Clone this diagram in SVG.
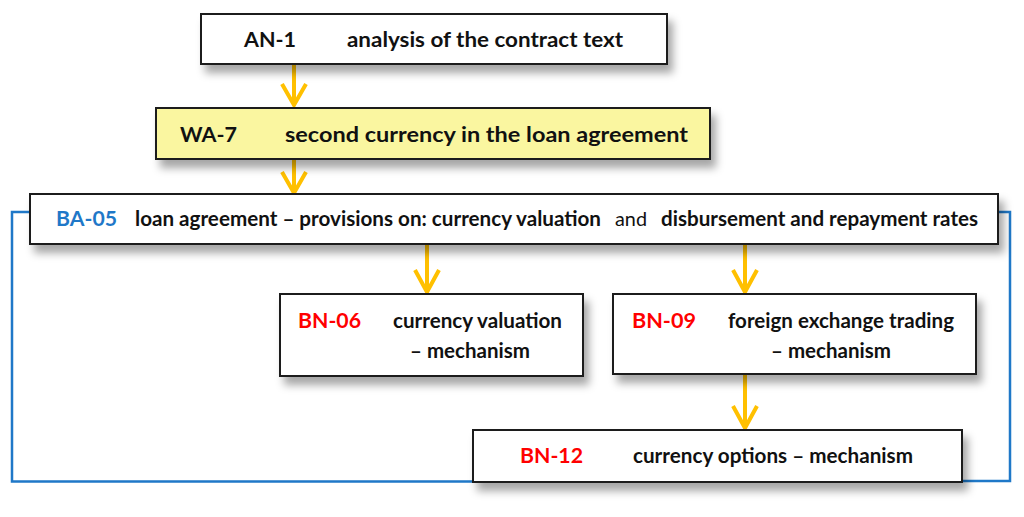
<svg xmlns="http://www.w3.org/2000/svg" width="1024" height="517" viewBox="0 0 1024 517">
<style>
.box{fill:#fff;stroke:#1a1a1a;stroke-width:2;}
.hl{fill:#FAF6A0;}
.t{font-family:Lato,"Open Sans","Liberation Sans",sans-serif;font-size:20px;font-weight:bold;fill:#111;}
.n{font-weight:normal;}
.red{fill:#FF0000;}
.blue{fill:#1F78C8;}
.arr{stroke:#FFC000;stroke-width:4;fill:none;stroke-linecap:butt;stroke-linejoin:miter;}
.bl{stroke:#1F78C8;stroke-width:2.5;fill:none;}
</style>
<defs>
<filter id="sh" x="-10%" y="-30%" width="125%" height="190%">
<feDropShadow dx="5" dy="8" stdDeviation="4" flood-color="#000" flood-opacity="0.35"/>
</filter>
</defs>
<rect width="1024" height="517" fill="#fff"/>
<g id="connectors">
<polyline class="bl" points="30,212 12,212 12,481.5 473,481.5"/>
<polyline class="bl" points="998,212 1010,212 1010,481 962,481"/>
<path class="arr" d="M294,64 V105 M282,84 L294,105 L306,84"/>
<path class="arr" d="M294,159 V193 M282,172 L294,193 L306,172"/>
<path class="arr" d="M427,244 V292 M415,270 L427,292 L439,270"/>
<path class="arr" d="M745,244 V292 M733,270 L745,292 L757,270"/>
<path class="arr" d="M745,374 V428 M733,406 L745,428 L757,406"/>
</g>
<g id="AN-1">
<rect class="box" x="201" y="14" width="466" height="50" filter="url(#sh)"/>
<text class="t" x="244" y="47" textLength="52" lengthAdjust="spacingAndGlyphs">AN-1</text>
<text class="t" x="347" y="47" textLength="276" lengthAdjust="spacingAndGlyphs">analysis of the contract text</text>
</g>
<g id="WA-7">
<rect class="box hl" x="156" y="108" width="554" height="51" filter="url(#sh)"/>
<text class="t" x="180" y="142" textLength="57" lengthAdjust="spacingAndGlyphs">WA-7</text>
<text class="t" x="285" y="142" textLength="403" lengthAdjust="spacingAndGlyphs">second currency in the loan agreement</text>
</g>
<g id="BA-05">
<rect class="box" x="30" y="194" width="968" height="50" filter="url(#sh)"/>
<text class="t blue" x="56" y="226" textLength="61" lengthAdjust="spacingAndGlyphs">BA-05</text>
<text class="t" x="135" y="226" textLength="466" lengthAdjust="spacingAndGlyphs">loan agreement – provisions on: currency valuation</text>
<text class="t n" x="615" y="226" textLength="32" lengthAdjust="spacingAndGlyphs">and</text>
<text class="t" x="661" y="226" textLength="317" lengthAdjust="spacingAndGlyphs">disbursement and repayment rates</text>
</g>
<g id="BN-06">
<rect class="box" x="280" y="294" width="303" height="82" filter="url(#sh)"/>
<text class="t red" x="298" y="328" textLength="63" lengthAdjust="spacingAndGlyphs">BN-06</text>
<text class="t" x="393" y="328" textLength="169" lengthAdjust="spacingAndGlyphs">currency valuation</text>
<text class="t" x="410" y="358" textLength="120" lengthAdjust="spacingAndGlyphs">– mechanism</text>
</g>
<g id="BN-09">
<rect class="box" x="613" y="294" width="363" height="80" filter="url(#sh)"/>
<text class="t red" x="632" y="328" textLength="64" lengthAdjust="spacingAndGlyphs">BN-09</text>
<text class="t" x="728" y="328" textLength="226" lengthAdjust="spacingAndGlyphs">foreign exchange trading</text>
<text class="t" x="771" y="358" textLength="120" lengthAdjust="spacingAndGlyphs">– mechanism</text>
</g>
<g id="BN-12">
<rect class="box" x="473" y="430" width="489" height="52" filter="url(#sh)"/>
<text class="t red" x="520" y="463" textLength="63" lengthAdjust="spacingAndGlyphs">BN-12</text>
<text class="t" x="633" y="463" textLength="280" lengthAdjust="spacingAndGlyphs">currency options – mechanism</text>
</g>
</svg>
